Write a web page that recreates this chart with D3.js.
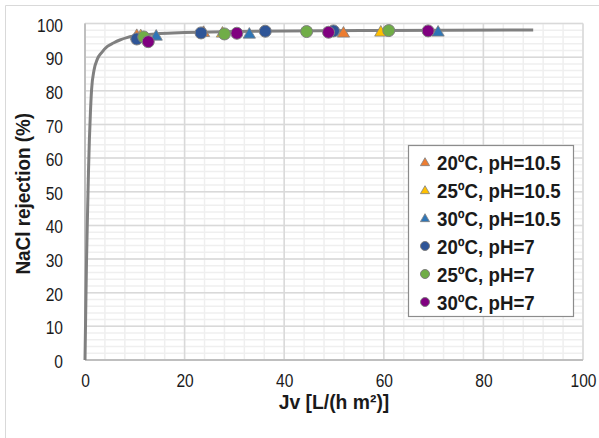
<!DOCTYPE html>
<html><head><meta charset="utf-8">
<script src="https://cdn.jsdelivr.net/npm/d3@7/dist/d3.min.js"></script>
<style>body{margin:0;background:#fff}svg{display:block}</style>
</head><body><svg id="c" width="599" height="438"></svg>
<script>
const xTicks = [0,20,40,60,80,100];
const yTicks = [0,10,20,30,40,50,60,70,80,90,100];
const seriesNames = ["20ºC, pH=10.5","25ºC, pH=10.5","30ºC, pH=10.5","20ºC, pH=7","25ºC, pH=7","30ºC, pH=7"];
const seriesShapes = ["triangle","triangle","triangle","circle","circle","circle"];
const seriesColors = ["#ED7D31","#FFC000","#2E75B6","#2F5597","#70AD47","#800080"];
const s20pH105 = [[10.4,96.6],[23.8,97.5],[51.9,97.3]];
const s25pH105 = [[11.2,96.5],[27.6,97.3],[59.4,97.6]];
const s30pH105 = [[14.3,96.4],[33.0,97.0],[70.9,97.6]];
const s20pH7 = [[10.4,95.4],[23.3,97.2],[36.2,97.7],[49.9,97.8]];
const s25pH7 = [[11.8,96.0],[28.0,96.9],[44.5,97.6],[61.0,97.9]];
const s30pH7 = [[12.7,94.6],[30.5,97.1],[48.9,97.4],[68.9,97.8]];
const seriesData = [s20pH105,s25pH105,s30pH105,s20pH7,s25pH7,s30pH7];
const fitCurve = [[0,0],[0.15,15],[0.3,29],[0.5,43],[0.7,56],[0.87,65],[1.1,74],[1.33,80.5],[1.8,86],[2.5,89.5],[3.3,91.3],[4.5,93.2],[5.7,94.2],[7,95.1],[8.4,95.8],[10,96.3],[15,97.0],[20,97.3],[30,97.6],[40,97.8],[60,97.95],[90,98.05]];

const svg = d3.select("#c");
const L=85, R=583, T=23.5, B=360;
const x = d3.scaleLinear().domain([0,100]).range([L,R]);
const y = d3.scaleLinear().domain([0,100]).range([B,T]);
const FONT = "'Liberation Sans',Arial,sans-serif";
function squeeze(sel, f){ sel.each(function(){ const w=this.getComputedTextLength(); d3.select(this).attr("textLength",w*f).attr("lengthAdjust","spacingAndGlyphs"); }); }

svg.append("path").attr("d","M5.5,438V5.5H599").attr("fill","none").attr("stroke","#d9d9d9").attr("stroke-width",1);

const g = svg.append("g");
d3.range(0,101,4).forEach(v=>{ g.append("line").attr("x1",x(v)).attr("x2",x(v)).attr("y1",T).attr("y2",B).attr("stroke","#efefef").attr("stroke-width",1.5); });
d3.range(0,101,2).forEach(v=>{ g.append("line").attr("x1",L).attr("x2",R).attr("y1",y(v)).attr("y2",y(v)).attr("stroke","#efefef").attr("stroke-width",1.5); });
xTicks.forEach(v=>{ g.append("line").attr("x1",x(v)).attr("x2",x(v)).attr("y1",T).attr("y2",B).attr("stroke","#d9d9d9").attr("stroke-width",1.5); });
yTicks.forEach(v=>{ g.append("line").attr("x1",L).attr("x2",R).attr("y1",y(v)).attr("y2",y(v)).attr("stroke","#d9d9d9").attr("stroke-width",1.5); });
svg.append("line").attr("x1",L).attr("x2",L).attr("y1",T).attr("y2",B).attr("stroke","#bfbfbf").attr("stroke-width",2);
svg.append("line").attr("x1",L).attr("x2",R).attr("y1",B).attr("y2",B).attr("stroke","#bfbfbf").attr("stroke-width",2);

const xAxis = d3.axisBottom(x).tickValues(xTicks).tickSize(0).tickPadding(14);
const ya = d3.axisLeft(y).tickValues(yTicks).tickSize(0).tickPadding(22);
const gx = svg.append("g").attr("transform",`translate(0,${B})`).call(xAxis);
const gy = svg.append("g").attr("transform",`translate(${L},1.5)`).call(ya);
gx.select(".domain").remove();
gx.selectAll("text").attr("font-family",FONT).attr("font-size",19).attr("fill","#1a1a1a").attr("transform","scale(0.82,1)");
gy.select(".domain").remove();
gy.selectAll("text").attr("font-family",FONT).attr("font-size",19).attr("fill","#1a1a1a").call(squeeze,0.82);

svg.append("text").attr("x",(L+R)/2).attr("y",409).attr("text-anchor","middle")
  .attr("font-family",FONT).attr("font-weight","bold").attr("font-size",21).attr("fill","#1a1a1a")
  .text("Jv [L/(h m²)]").call(squeeze,0.92);
svg.append("text").attr("transform",`translate(30,${(T+B)/2 + 2}) rotate(-90)`).attr("text-anchor","middle")
  .attr("font-family",FONT).attr("font-weight","bold").attr("font-size",21).attr("fill","#1a1a1a")
  .text("NaCl rejection (%)").call(squeeze,0.9);

svg.append("path").datum(fitCurve)
  .attr("d", d3.line().x(d=>x(d[0])).y(d=>y(d[1])).curve(d3.curveMonotoneX))
  .attr("fill","none").attr("stroke","#808080").attr("stroke-width",3);

const triSym = d3.symbol().type(d3.symbolTriangle);
function marker(sel, shape, color, size){
  if(shape==="circle"){
    sel.append("circle").attr("r",size/2).attr("fill",color).attr("stroke","#7f7f7f").attr("stroke-width",1);
  } else {
    sel.append("path").attr("d",triSym.size(size*size*0.45)()).attr("transform","translate(0,1)").attr("fill",color).attr("stroke","#7f7f7f").attr("stroke-width",0.8);
  }
}
seriesData.forEach((data,i)=>{
  const gs = svg.append("g");
  data.forEach(d=>{
    const m = gs.append("g").attr("transform",`translate(${x(d[0])},${y(d[1])})`);
    marker(m, seriesShapes[i], seriesColors[i], 12);
  });
});

const lg = svg.append("g");
lg.append("rect").attr("x",408.5).attr("y",145.5).attr("width",165).attr("height",171).attr("fill","#fff").attr("stroke","#8c8c8c").attr("stroke-width",1.2);
seriesNames.forEach((n,i)=>{
  const yy = 162 + i*28;
  const m = lg.append("g").attr("transform",`translate(425,${yy})`);
  marker(m, seriesShapes[i], seriesColors[i], 9);
  lg.append("text").attr("x",437).attr("y",yy+7.5).attr("font-family",FONT).attr("font-weight","bold").attr("font-size",21).attr("fill","#1a1a1a").text(n).call(squeeze,0.89);
});
</script></body></html>
